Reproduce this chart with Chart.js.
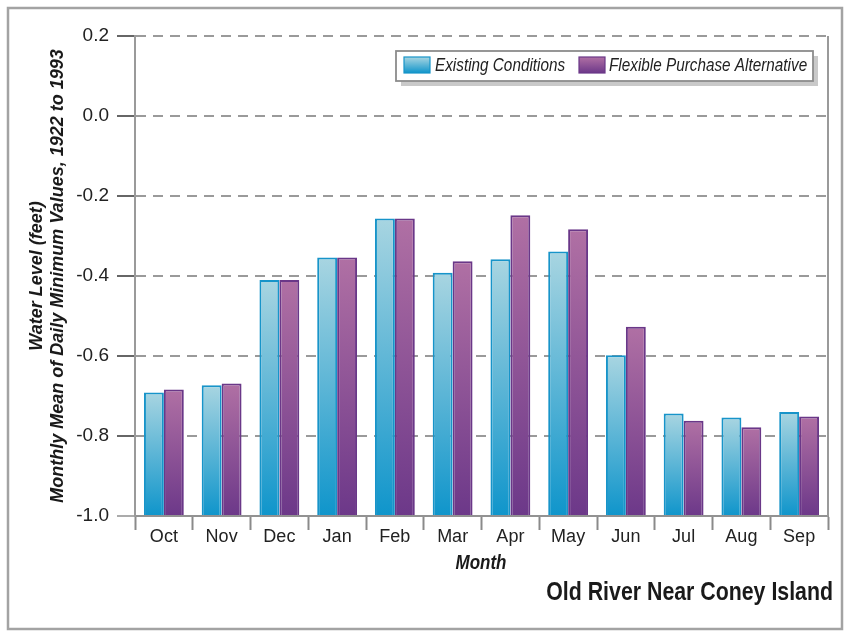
<!DOCTYPE html>
<html>
<head>
<meta charset="utf-8">
<title>Old River Near Coney Island</title>
<script src="https://cdn.jsdelivr.net/npm/chart.js@4.4.1/dist/chart.umd.min.js"></script>
<style>
  html, body { margin: 0; padding: 0; background: #ffffff; }
  #wrap { position: relative; width: 850px; height: 633px; }
  canvas { display: block; }
</style>
</head>
<body>
<div id="wrap"><canvas id="chart" width="850" height="633"></canvas></div>
<script>
// Monthly mean of daily minimum water level (feet), 1922 to 1993
const months = ['Oct', 'Nov', 'Dec', 'Jan', 'Feb', 'Mar', 'Apr', 'May', 'Jun', 'Jul', 'Aug', 'Sep'];
const existingConditions = [-0.691, -0.673, -0.41, -0.354, -0.256, -0.392, -0.358, -0.339, -0.598, -0.744, -0.754, -0.740];
const flexiblePurchase = [-0.684, -0.669, -0.41, -0.354, -0.256, -0.363, -0.248, -0.283, -0.527, -0.762, -0.778, -0.751];
const yTickValues = [0.2, 0.0, -0.2, -0.4, -0.6, -0.8, -1.0];
const seriesNames = ['Existing Conditions', 'Flexible Purchase Alternative'];
const axisTitleY = ['Water Level (feet)', 'Monthly Mean of Daily Minimum Values, 1922 to 1993'];
const axisTitleX = 'Month';
const chartTitle = 'Old River Near Coney Island';

const FONT = '"Liberation Sans", Arial, sans-serif';
const BASE = -1.0;

const BLUE = { top: '#a8d5e1', bottom: '#0f95cb', edge: '#1794c9' };
const PURPLE = { top: '#b070a4', bottom: '#6c3889', edge: '#6a3788' };

// vertical gradient running from the top of each bar down to the base line
function barFill(pal) {
  return (c) => {
    const chart = c.chart;
    const { ctx, chartArea, scales } = chart;
    if (!chartArea || c.type !== 'data') return pal.bottom;
    const y0 = scales.y.getPixelForValue(c.raw);
    const y1 = scales.y.getPixelForValue(BASE);
    const g = ctx.createLinearGradient(0, y0, 0, y1);
    g.addColorStop(0, pal.top);
    g.addColorStop(1, pal.bottom);
    return g;
  };
}

// text drawn with a horizontal squeeze, giving a condensed face
function condensedText(ctx, text, x, y, font, align, squeeze) {
  ctx.save();
  ctx.translate(x, y);
  ctx.scale(squeeze, 1);
  ctx.font = font;
  ctx.textAlign = align;
  ctx.fillText(text, 0, 0);
  ctx.restore();
}

const decorations = {
  id: 'decorations',
  beforeDraw(chart) {
    const ctx = chart.ctx;
    ctx.save();
    ctx.fillStyle = '#ffffff';
    ctx.fillRect(0, 0, chart.width, chart.height);
    ctx.restore();
  },
  afterDraw(chart) {
    const ctx = chart.ctx;
    const area = chart.chartArea;
    ctx.save();

    // outer frame
    ctx.strokeStyle = '#a3a3a3';
    ctx.lineWidth = 2.5;
    ctx.strokeRect(8, 8, 834, 621);

    // right edge of the plot
    ctx.strokeStyle = '#9a9a9a';
    ctx.lineWidth = 2;
    ctx.beginPath();
    ctx.moveTo(area.right, area.top);
    ctx.lineTo(area.right, area.bottom);
    ctx.stroke();

    // legend box with drop shadow
    const lx = 396, ly = 51, lw = 417, lh = 30;
    ctx.fillStyle = '#c9c9c9';
    ctx.fillRect(lx + 5, ly + 5, lw, lh);
    ctx.fillStyle = '#ffffff';
    ctx.fillRect(lx, ly, lw, lh);
    ctx.strokeStyle = '#8c8c8c';
    ctx.lineWidth = 1.8;
    ctx.strokeRect(lx, ly, lw, lh);

    const swatches = [
      { x: 404, text: 435, pal: BLUE, name: seriesNames[0] },
      { x: 579, text: 609, pal: PURPLE, name: seriesNames[1] }
    ];
    ctx.textBaseline = 'middle';
    swatches.forEach(s => {
      const g = ctx.createLinearGradient(0, 57, 0, 73);
      g.addColorStop(0, s.pal.top);
      g.addColorStop(1, s.pal.bottom);
      ctx.fillStyle = g;
      ctx.fillRect(s.x, 57, 26, 16);
      ctx.strokeStyle = s.pal.edge;
      ctx.lineWidth = 1.2;
      ctx.strokeRect(s.x, 57, 26, 16);
      ctx.fillStyle = '#222222';
      condensedText(ctx, s.name, s.text, 66, 'italic 18px ' + FONT, 'left', 0.85);
    });

    // axis titles
    ctx.fillStyle = '#1a1a1a';
    condensedText(ctx, axisTitleX, 481, 563, 'italic bold 20px ' + FONT, 'center', 0.85);

    const midY = (area.top + area.bottom) / 2;
    ctx.save();
    ctx.translate(37, midY);
    ctx.rotate(-Math.PI / 2);
    ctx.textAlign = 'center';
    ctx.font = 'italic bold 18px ' + FONT;
    ctx.fillText(axisTitleY[0], 0, 0);
    ctx.fillText(axisTitleY[1], 0, 21);
    ctx.restore();

    // chart title
    ctx.fillStyle = '#1a1a1a';
    condensedText(ctx, chartTitle, 833, 593, 'bold 26px ' + FONT, 'right', 0.82);

    ctx.restore();
  }
};

new Chart(document.getElementById('chart'), {
  type: 'bar',
  data: {
    labels: months,
    datasets: [
      {
        label: seriesNames[0],
        data: existingConditions,
        base: BASE,
        backgroundColor: barFill(BLUE),
        borderColor: BLUE.edge,
        borderWidth: 2
      },
      {
        label: seriesNames[1],
        data: flexiblePurchase,
        base: BASE,
        backgroundColor: barFill(PURPLE),
        borderColor: PURPLE.edge,
        borderWidth: 2
      }
    ]
  },
  options: {
    responsive: false,
    animation: false,
    devicePixelRatio: 1,
    layout: { padding: { left: 0, right: 22, top: 36, bottom: 0 } },
    datasets: {
      bar: { categoryPercentage: 0.69, barPercentage: 1.0 }
    },
    plugins: {
      legend: { display: false },
      tooltip: { enabled: false },
      title: { display: false }
    },
    scales: {
      x: {
        grid: {
          offset: true,
          drawOnChartArea: false,
          drawTicks: true,
          tickLength: 14,
          tickColor: '#8a8a8a',
          tickWidth: 2
        },
        border: { display: true, color: '#929292', width: 2 },
        ticks: {
          color: '#222222',
          font: { family: FONT, size: 18 },
          padding: -4,
          maxRotation: 0,
          autoSkip: false
        },
        afterFit(scale) { scale.height = 117; }
      },
      y: {
        min: -1.0,
        max: 0.2,
        afterBuildTicks(scale) { scale.ticks = yTickValues.map(v => ({ value: v })); },
        ticks: {
          color: '#222222',
          font: { family: FONT, size: 19 },
          padding: 8,
          callback: (v) => Number(v).toFixed(1)
        },
        grid: {
          color: '#9a9a9a',
          lineWidth: 2,
          drawTicks: true,
          tickLength: 18,
          tickWidth: 1.5,
          tickColor: (c) => (c.tick && c.tick.value === -1 ? '#8f8f8f' : '#333333')
        },
        border: { display: true, color: '#9a9a9a', width: 2, dash: [10, 7] },
        afterFit(scale) { scale.width = 135; }
      }
    }
  },
  plugins: [decorations]
});
</script>
</body>
</html>
